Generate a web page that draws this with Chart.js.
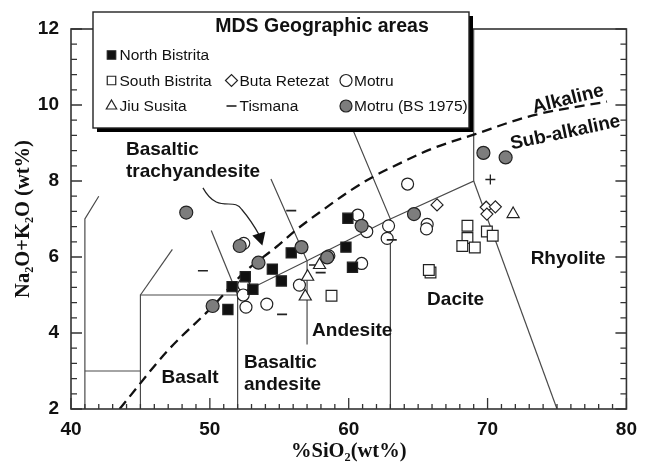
<!DOCTYPE html>
<html>
<head>
<meta charset="utf-8">
<script src="https://cdn.jsdelivr.net/npm/chart.js@4.4.1/dist/chart.umd.min.js"></script>
<style>
  html, body { margin: 0; padding: 0; background: #fff; }
  #wrap { width: 646px; height: 467px; position: relative; }
</style>
</head>
<body>
<div id="wrap"><canvas id="tas"></canvas></div>
<script>
// tick labels
const xTickLabels = [40, 50, 60, 70, 80];
const yTickLabels = [2, 4, 6, 8, 10, 12];

// samples: [SiO2, Na2O+K2O] in wt%
const northBistrita = [[51.3,4.62],[51.6,5.22],[52.55,5.48],[53.1,5.15],[54.5,5.68],[55.15,5.37],[55.86,6.11],[59.94,7.02],[59.8,6.26],[60.27,5.73]];
const southBistrita = [[58.76,4.98],[65.89,5.59],[65.77,5.66],[68.55,6.82],[68.55,6.5],[68.18,6.29],[69.08,6.25],[69.95,6.67],[70.37,6.56]];
const butaRetezat = [[66.36,7.37],[69.9,7.31],[70.56,7.32],[69.95,7.13]];
const motru = [[52.44,6.36],[52.44,5.26],[52.4,5.0],[52.6,4.68],[54.1,4.76],[56.45,5.26],[58.57,6.03],[60.65,7.1],[61.3,6.67],[60.93,5.83],[62.87,6.82],[62.77,6.49],[64.24,7.92],[65.65,6.86],[65.6,6.74]];
const jiuSusita = [[57.9,5.79],[57.04,5.48],[56.87,4.96],[71.84,7.13]];
const tismana = [[49.5,5.64],[55.86,7.22],[55.2,4.49],[57.5,5.79],[57.98,5.59],[63.1,6.45]];
const plusSample = [[70.2,8.04]];
const motruBS1975 = [[48.3,7.17],[52.15,6.29],[50.2,4.71],[53.5,5.85],[56.6,6.26],[58.45,5.99],[60.93,6.82],[64.7,7.13],[69.7,8.74],[71.3,8.62]];

// TAS field boundaries (as drawn in the figure)
const tasLines = [
  [[41,2],[41,7],[42,7.6]],
  [[41,3],[45,3]],
  [[45,2],[45,5],[52,5]],
  [[45,5],[47.3,6.2]],
  [[52,2],[52,5],[57,5.9],[63,7],[69,8],[69,12]],
  [[52,5],[50.1,6.7]],
  [[57,3.7],[57,5.9],[54.4,8.05]],
  [[63,2],[63,7],[57.6,11.7]],
  [[69,8],[75,2]]
];

// Irvine & Baragar alkaline / sub-alkaline divide
const alkalineCurve = [[43.5,2],[47,3.55],[50.2,4.7],[52.4,5.57],[54.8,6.27],[56.2,6.71],[58.3,7.28],[60,7.72],[61.8,8.12],[64,8.52],[66,8.85],[69,9.22],[73.2,9.72],[78.6,10.09]];

const pts = arr => arr.map(p => ({x: p[0], y: p[1]}));
const FONT = "'Liberation Sans', Arial, sans-serif";
const SERIF = "'Liberation Serif', 'Times New Roman', serif";

function series(label, data, style, radius, fill, extra) {
  return Object.assign({
    label: label,
    data: pts(data),
    pointStyle: style,
    pointRadius: radius,
    pointHoverRadius: radius,
    pointBackgroundColor: fill,
    pointBorderColor: '#222',
    pointBorderWidth: 1.2,
    showLine: false,
    order: 1
  }, extra || {});
}

const datasets = [
  series('Motru (BS 1975)', motruBS1975, 'circle', 6.5, '#7d7d7d', {order: 0}),
  series('North Bistrita', northBistrita, 'rect', 7.2, '#111'),
  series('Motru', motru, 'circle', 6, '#fff', {order: 2}),
  series('South Bistrita', southBistrita, 'rect', 7.6, '#fff'),
  series('Buta Retezat', butaRetezat, 'rectRot', 6, '#fff'),
  series('Jiu Susita', jiuSusita, 'triangle', 7, '#fff'),
  series('Tismana', tismana, 'line', 5, '#222', {pointBorderWidth: 1.6}),
  series('', plusSample, 'cross', 5, '#222', {pointBorderWidth: 1.3}),
  {
    label: 'Alkaline',
    data: pts(alkalineCurve),
    showLine: true,
    pointRadius: 0,
    borderColor: '#111',
    borderWidth: 2.3,
    borderDash: [10, 6],
    cubicInterpolationMode: 'monotone',
    order: 5
  }
];
tasLines.forEach(line => datasets.push({
  label: '',
  data: pts(line),
  showLine: true,
  pointRadius: 0,
  borderColor: '#4a4a4a',
  borderWidth: 1.2,
  order: 10
}));

// legend layout: [dataset label, shown text, column, row]
const legendItems = [
  ['North Bistrita', 'North Bistrita', 0, 0],
  ['South Bistrita', 'South Bistrita', 0, 1],
  ['Buta Retezat', 'Buta Retezat', 1, 1],
  ['Motru', 'Motru', 2, 1],
  ['Jiu Susita', 'Jiu Susita', 0, 2],
  ['Tismana', 'Tismana', 1, 2],
  ['Motru (BS 1975)', 'Motru (BS 1975)', 2, 2]
];

const regionLabels = [
  {lines: ['Basaltic', 'trachyandesite'], x: 43.96, y: 8.82, align: 'left'},
  {lines: ['Basalt'], x: 48.57, y: 2.82, align: 'center'},
  {lines: ['Basaltic', 'andesite'], x: 52.46, y: 3.21, align: 'left'},
  {lines: ['Andesite'], x: 60.25, y: 4.05, align: 'center'},
  {lines: ['Dacite'], x: 67.7, y: 4.87, align: 'center'},
  {lines: ['Rhyolite'], x: 75.8, y: 5.95, align: 'center'}
];

function drawMarker(ctx, ds, x, y) {
  const opts = {
    pointStyle: ds.pointStyle, radius: ds.pointRadius, rotation: 0,
    borderWidth: ds.pointBorderWidth
  };
  ctx.save();
  ctx.fillStyle = ds.pointBackgroundColor;
  ctx.strokeStyle = ds.pointBorderColor;
  ctx.lineWidth = ds.pointBorderWidth;
  Chart.helpers.drawPoint(ctx, opts, x, y);
  ctx.restore();
}

const tasDecor = {
  id: 'tasDecor',
  afterDatasetsDraw(chart) {
    const {ctx, chartArea: a, scales: {x, y}} = chart;
    ctx.save();
    // frame
    ctx.strokeStyle = '#333';
    ctx.lineWidth = 1.6;
    ctx.strokeRect(a.left, a.top, a.right - a.left, a.bottom - a.top);
    // inward ticks
    ctx.lineWidth = 1.3;
    ctx.beginPath();
    for (let v = 40; v <= 80; v++) {
      const px = x.getPixelForValue(v);
      const len = v % 10 === 0 ? 11 : 5;
      ctx.moveTo(px, a.bottom); ctx.lineTo(px, a.bottom - len);
    }
    for (let i = 0; i <= 25; i++) {
      const v = 2 + i * 0.4;
      const py = y.getPixelForValue(v);
      const len = i % 5 === 0 ? 11 : 6;
      ctx.moveTo(a.left, py); ctx.lineTo(a.left + len, py);
      ctx.moveTo(a.right, py); ctx.lineTo(a.right - len, py);
    }
    ctx.stroke();

    // region labels
    ctx.fillStyle = '#111';
    ctx.font = 'bold 19px ' + FONT;
    ctx.textBaseline = 'middle';
    regionLabels.forEach(l => {
      ctx.textAlign = l.align;
      const px = x.getPixelForValue(l.x);
      const py = y.getPixelForValue(l.y);
      l.lines.forEach((t, i) => ctx.fillText(t, px, py + i * 22));
    });

    // rotated series-divide labels
    const rot = (t, vx, vy, deg) => {
      ctx.save();
      ctx.translate(x.getPixelForValue(vx), y.getPixelForValue(vy));
      ctx.rotate(deg * Math.PI / 180);
      ctx.textAlign = 'center';
      ctx.fillText(t, 0, 0);
      ctx.restore();
    };
    rot('Alkaline', 75.8, 10.15, -14);
    rot('Sub-alkaline', 75.6, 9.27, -12);

    // curved arrow pointing into the basaltic trachyandesite field
    const P = (vx, vy) => [x.getPixelForValue(vx), y.getPixelForValue(vy)];
    const s = P(49.5, 7.82), c1 = P(50.6, 7.1), c2 = P(51.7, 7.6), m = P(52.3, 7.25);
    const c3 = P(53.0, 6.95), e = P(53.6, 6.55);
    ctx.strokeStyle = '#222';
    ctx.lineWidth = 1.2;
    ctx.beginPath();
    ctx.moveTo(s[0], s[1]);
    ctx.bezierCurveTo(c1[0], c1[1], c2[0], c2[1], m[0], m[1]);
    ctx.quadraticCurveTo(c3[0], c3[1], e[0], e[1]);
    ctx.stroke();
    const tip = P(53.78, 6.3);
    ctx.fillStyle = '#111';
    ctx.beginPath();
    ctx.moveTo(tip[0], tip[1]);
    ctx.lineTo(tip[0] - 10, tip[1] - 10);
    ctx.lineTo(tip[0] + 3, tip[1] - 14);
    ctx.closePath();
    ctx.fill();
    ctx.restore();
  },
  afterDraw(chart) {
    const {ctx} = chart;
    const bx = 93, by = 12, bw = 376, bh = 116;
    ctx.save();
    ctx.fillStyle = '#000';
    ctx.fillRect(bx + 4, by + 4, bw, bh);
    ctx.fillStyle = '#fff';
    ctx.fillRect(bx, by, bw, bh);
    ctx.strokeStyle = '#222';
    ctx.lineWidth = 1.4;
    ctx.strokeRect(bx, by, bw, bh);

    ctx.fillStyle = '#111';
    ctx.font = 'bold 19.5px ' + FONT;
    ctx.textAlign = 'center';
    ctx.textBaseline = 'middle';
    ctx.fillText('MDS Geographic areas', 322, 27);

    const colX = [111.5, 231.5, 346];
    const rowY = [55, 80.5, 106];
    ctx.font = '15.5px ' + FONT;
    ctx.textAlign = 'left';
    legendItems.forEach(([key, text, c, r]) => {
      const ds = chart.data.datasets.find(d => d.label === key);
      const legendDs = Object.assign({}, ds, {pointRadius: Math.min(ds.pointRadius, 6)});
      drawMarker(ctx, legendDs, colX[c], rowY[r]);
      ctx.fillStyle = '#111';
      ctx.fillText(text, colX[c] + 8, rowY[r] + 1);
    });
    ctx.restore();
  }
};

new Chart(document.getElementById('tas'), {
  type: 'scatter',
  data: {datasets: datasets},
  options: {
    responsive: true,
    maintainAspectRatio: false,
    animation: false,
    layout: {padding: {top: 29, right: 10, left: 0, bottom: 0}},
    plugins: {legend: {display: false}, tooltip: {enabled: false}},
    scales: {
      x: {
        type: 'linear', min: 40, max: 80,
        afterFit: s => { s.height = 58; },
        grid: {display: false, drawTicks: false},
        border: {display: false},
        afterBuildTicks: s => { s.ticks = xTickLabels.map(v => ({value: v})); },
        ticks: {color: '#111', padding: 9, font: {family: FONT, size: 19, weight: 'bold'}},
        title: {display: true, text: '%SiO\u2082(wt%)', color: '#111', padding: {top: 0, bottom: 3},
                font: {family: SERIF, size: 20.5, weight: 'bold'}}
      },
      y: {
        type: 'linear', min: 2, max: 12,
        afterFit: s => { s.width = 71; },
        grid: {display: false, drawTicks: false},
        border: {display: false},
        afterBuildTicks: s => { s.ticks = yTickLabels.map(v => ({value: v})); },
        ticks: {color: '#111', padding: 12, font: {family: FONT, size: 19, weight: 'bold'}},
        title: {display: true, text: 'Na\u2082O+K\u2082O (wt%)', color: '#111', padding: {top: 11, bottom: 0},
                font: {family: SERIF, size: 20.5, weight: 'bold'}}
      }
    }
  },
  plugins: [tasDecor]
});
</script>
</body>
</html>
